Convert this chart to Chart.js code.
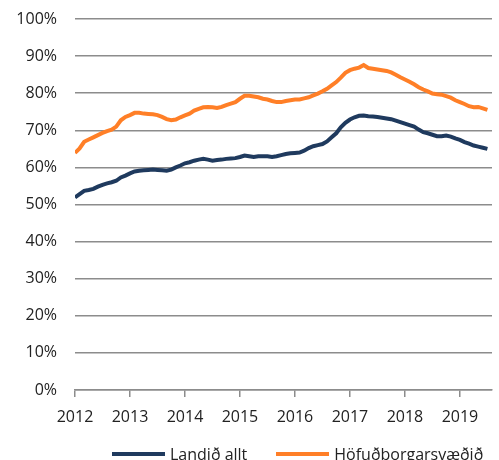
<!DOCTYPE html>
<html>
<head>
<meta charset="utf-8">
<script src="https://cdn.jsdelivr.net/npm/chart.js@4/dist/chart.umd.min.js"></script>
<style>
  html, body { margin: 0; padding: 0; background: #fff; overflow: hidden; }
  #wrap { position: relative; width: 499px; height: 460px; }
  #legend {
    position: absolute; top: 444px; left: 112px;
    display: flex; align-items: center; white-space: nowrap;
    font: 16px/20px 'Open Sans', sans-serif; color: #222;
  }
  #legend .item { display: flex; align-items: center; margin-right: 29px; }
  #legend .swatch { width: 53px; height: 4px; margin-right: 5px; }
</style>
</head>
<body>
<div id="wrap">
  <canvas id="c" width="499" height="460"></canvas>
  <div id="legend"></div>
</div>
<script>
// monthly, Jan 2012 - Jul 2019
const YEARS = ["2012", "2013", "2014", "2015", "2016", "2017", "2018", "2019"];
const SERIES_NAMES = ["Landið allt", "Höfuðborgarsvæðið"];

const landidAllt = [
  51.9, 52.8, 53.7, 53.9, 54.2, 54.8, 55.3, 55.7, 56.0, 56.4, 57.3, 57.8,
  58.4, 58.9, 59.1, 59.2, 59.3, 59.4, 59.3, 59.2, 59.1, 59.4, 60.0, 60.5,
  61.1, 61.4, 61.8, 62.1, 62.3, 62.1, 61.8, 62.0, 62.1, 62.3, 62.4, 62.5,
  62.8, 63.2, 63.0, 62.8, 63.0, 63.0, 63.0, 62.8, 63.0, 63.3, 63.6, 63.8,
  63.9, 64.0, 64.5, 65.2, 65.7, 66.0, 66.3, 67.0, 68.1, 69.2, 70.8, 72.0,
  72.9, 73.5, 73.9, 74.0, 73.8, 73.7, 73.6, 73.4, 73.2, 73.0, 72.6, 72.2,
  71.8, 71.4, 71.0, 70.2, 69.5, 69.2, 68.8, 68.4, 68.4, 68.6, 68.3, 67.8,
  67.4, 66.8, 66.4, 65.9, 65.6, 65.3, 65.0,
];

const hofudborgarsvaedid = [
  63.9, 65.1, 66.9, 67.5, 68.1, 68.7, 69.3, 69.8, 70.2, 71.0, 72.7, 73.6,
  74.1, 74.7, 74.7, 74.5, 74.4, 74.3, 74.1, 73.6, 73.0, 72.7, 72.9, 73.5,
  74.0, 74.5, 75.3, 75.8, 76.2, 76.3, 76.2, 76.0, 76.3, 76.8, 77.2, 77.6,
  78.5, 79.3, 79.3, 79.1, 78.9, 78.5, 78.3, 77.9, 77.6, 77.6, 77.9, 78.1,
  78.3, 78.3, 78.6, 78.9, 79.4, 79.9, 80.5, 81.2, 82.1, 83.0, 84.2, 85.5,
  86.2, 86.6, 86.9, 87.6, 86.8, 86.6, 86.4, 86.2, 86.0, 85.6, 85.0, 84.3,
  83.7, 83.1, 82.4, 81.6, 81.0, 80.5, 79.9, 79.7, 79.6, 79.2, 78.8, 78.1,
  77.6, 77.1, 76.5, 76.2, 76.3, 75.9, 75.5,
];

const BLUE = "#1f3a5e";
const ORANGE = "#ff7f27";
const GRID = "#8c8c8c";
const FONT = { family: "'Open Sans', sans-serif", size: 16 };

const toPoints = (arr) => arr.map((v, i) => ({ x: i, y: v }));

const chart = new Chart(document.getElementById("c"), {
  type: "line",
  data: {
    datasets: [
      {
        label: SERIES_NAMES[0],
        data: toPoints(landidAllt),
        borderColor: BLUE,
        backgroundColor: BLUE,
        borderWidth: 4,
        pointRadius: 0,
        tension: 0,
      },
      {
        label: SERIES_NAMES[1],
        data: toPoints(hofudborgarsvaedid),
        borderColor: ORANGE,
        backgroundColor: ORANGE,
        borderWidth: 4,
        pointRadius: 0,
        tension: 0,
      },
    ],
  },
  options: {
    responsive: false,
    animation: false,
    layout: { padding: { left: 0, right: 7, top: 19, bottom: 0 } },
    plugins: {
      tooltip: { enabled: false },
      legend: { display: false },
    },
    scales: {
      x: {
        type: "linear",
        min: 0,
        max: 91,
        afterBuildTicks: (scale) => {
          scale.ticks = YEARS.map((y, i) => ({ value: i * 12 }));
        },
        afterFit: (scale) => {
          scale.height = 70;
        },
        ticks: {
          color: "#222",
          font: FONT,
          padding: 11,
          maxRotation: 0,
          autoSkip: false,
          callback: (v) => YEARS[v / 12],
        },
        grid: {
          drawOnChartArea: false,
          drawTicks: true,
          tickLength: 7,
          color: GRID,
          lineWidth: 1.5,
        },
        border: { display: true, color: GRID, width: 1.5 },
      },
      y: {
        min: 0,
        max: 100,
        afterFit: (scale) => {
          scale.width = 75;
        },
        ticks: {
          stepSize: 10,
          color: "#222",
          font: FONT,
          padding: 0,
          callback: (v) => `${v}%`,
        },
        grid: {
          color: GRID,
          lineWidth: 1.5,
          drawTicks: true,
          tickLength: 18,
          tickColor: "rgba(0,0,0,0)",
        },
        border: { display: false },
      },
    },
  },
});

// legend as html, from the chart's datasets
const legendEl = document.getElementById("legend");
chart.data.datasets.forEach((ds) => {
  const item = document.createElement("span");
  item.className = "item";
  const sw = document.createElement("span");
  sw.className = "swatch";
  sw.style.background = ds.borderColor;
  const txt = document.createElement("span");
  txt.textContent = ds.label;
  item.append(sw, txt);
  legendEl.append(item);
});
</script>
</body>
</html>
